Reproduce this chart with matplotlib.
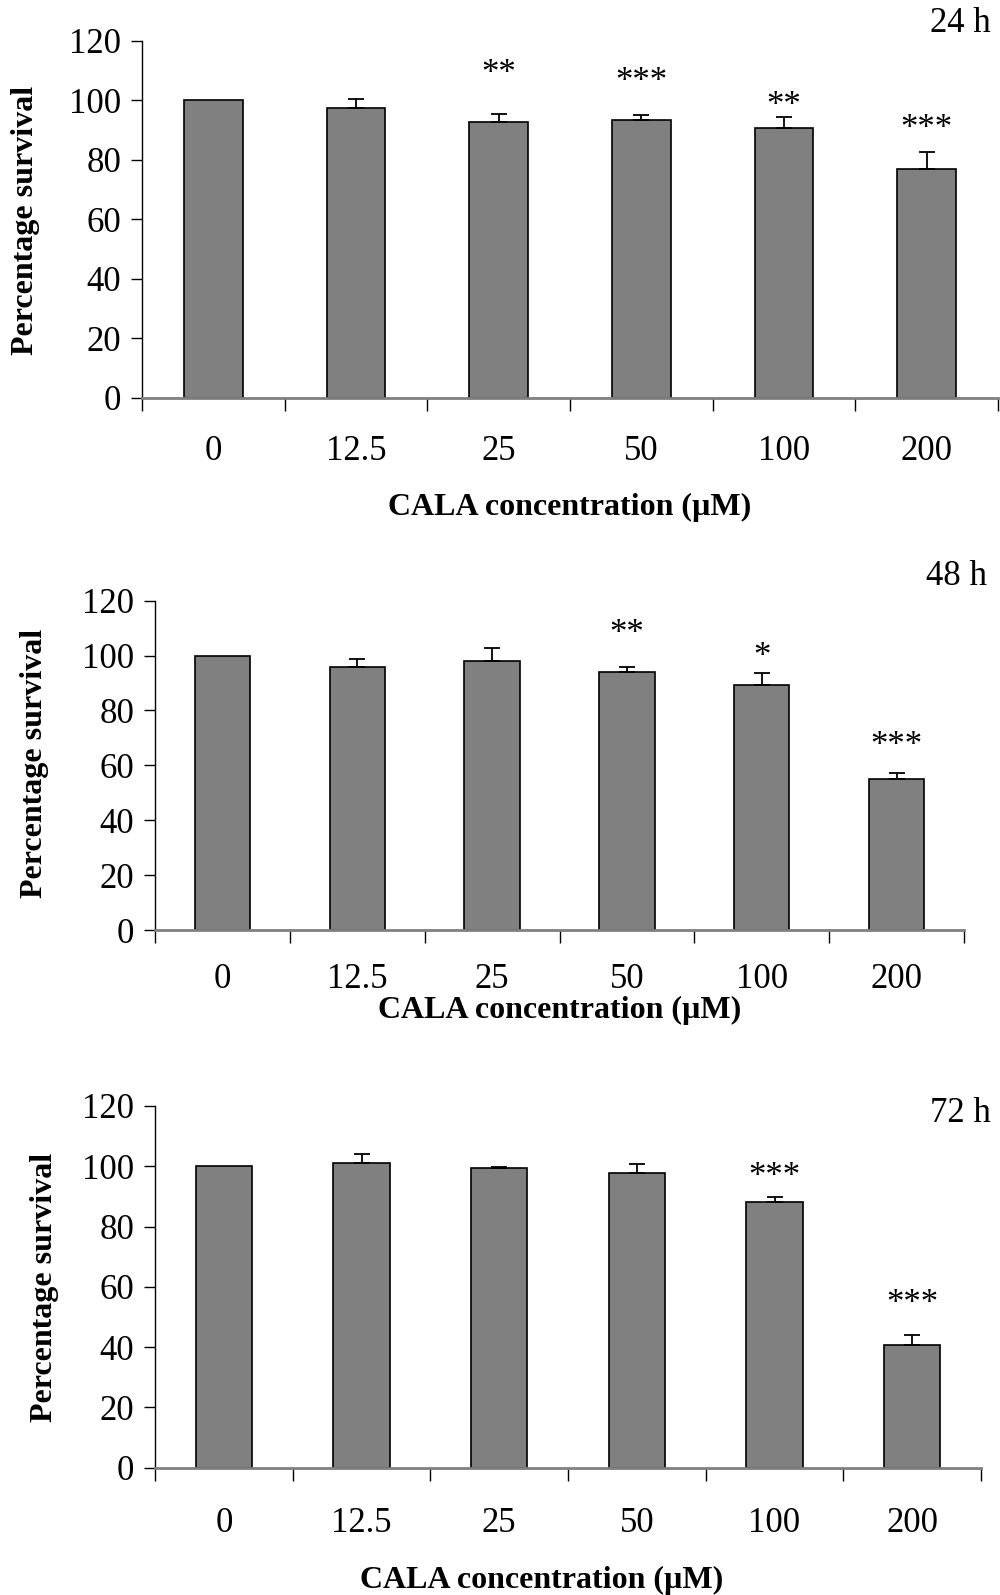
import numpy as np
import matplotlib.pyplot as plt

plt.rcParams['font.family'] = ['Liberation Serif', 'DejaVu Serif']

# data
conc = ["0", "12.5", "25", "50", "100", "200"]

surv_24 = [100, 97.5, 92.7, 93.3, 90.5, 77.0]
err_24 = [0, 2.8, 2.8, 1.6, 3.8, 5.5]
sig_24 = ["", "", "**", "***", "**", "***"]

surv_48 = [100, 96.0, 97.9, 94.1, 89.3, 54.9]
err_48 = [0, 2.6, 5.0, 1.7, 4.3, 2.2]
sig_48 = ["", "", "", "**", "*", "***"]

surv_72 = [100, 101.0, 99.3, 97.9, 88.3, 40.8]
err_72 = [0, 3.2, 0.5, 2.8, 1.5, 3.3]
sig_72 = ["", "", "", "", "***", "***"]

times = ["24 h", "48 h", "72 h"]

# heights (data units) where the asterisks sit
star_24 = [0, 0, 108.7, 106.1, 98.0, 90.0]
star_48 = [0, 0, 0, 107.7, 99.2, 67.0]
star_72 = [0, 0, 0, 0, 96.2, 54.0]

W, H = 1000, 1595
fig = plt.figure(figsize=(W / 100, H / 100), dpi=100)


def frac(l, t, r, b):
    return [l / W, 1 - b / H, (r - l) / W, (b - t) / H]


# layout per panel: axes box (px), tick label pad, y label pos, x label pos, time label pos
layout = [
    dict(box=(142, 40.7, 998, 397.7), pad=27, ylab=(26, 220), xlab=(570, 507), tlab=(960, 23)),
    dict(box=(155, 600.7, 964, 930), pad=24, ylab=(35, 763), xlab=(560, 1010), tlab=(956, 577)),
    dict(box=(155, 1106, 981, 1467.7), pad=28, ylab=(45, 1287), xlab=(542, 1580), tlab=(960, 1113)),
]

series = [(surv_24, err_24, sig_24, star_24),
          (surv_48, err_48, sig_48, star_48),
          (surv_72, err_72, sig_72, star_72)]

x = np.arange(len(conc))
fs = 25

for i, (vals, errs, sigs, stars) in enumerate(series):
    lo = layout[i]
    ax = fig.add_axes(frac(*lo["box"]))
    ax.bar(x, vals, width=0.41, color="#808080", edgecolor="black", linewidth=1.2, zorder=2)
    errs = np.array(errs)
    m = errs > 0
    ax.errorbar(x[m], np.array(vals)[m], yerr=[np.zeros(m.sum()), errs[m]], fmt="none",
                ecolor="black", elinewidth=1.3, capsize=6, capthick=1.3, zorder=3)
    for j, s in enumerate(sigs):
        if s:
            ax.text(x[j], stars[j], s, ha="center", va="center", fontsize=fs, zorder=4)

    ax.set_xlim(-0.5, len(conc) - 0.5)
    ax.set_ylim(0, 120)
    ax.set_yticks(range(0, 121, 20))
    ax.tick_params(axis="y", labelsize=fs, length=8, width=1, pad=7, direction="out")

    ax.set_xticks(np.arange(-0.5, len(conc), 1.0))
    ax.set_xticklabels([])
    ax.set_xticks(x, minor=True)
    ax.set_xticklabels(conc, minor=True)
    ax.tick_params(axis="x", which="major", length=9, width=1, direction="out")
    ax.tick_params(axis="x", which="minor", length=0, labelsize=fs, pad=lo["pad"])

    for sp in ["top", "right"]:
        ax.spines[sp].set_visible(False)
    ax.spines["bottom"].set_color("#808080")
    ax.spines["bottom"].set_linewidth(2)
    ax.spines["left"].set_linewidth(1)

    fig.text(lo["ylab"][0] / W, 1 - lo["ylab"][1] / H, "Percentage survival", rotation=90,
             ha="center", va="center", fontsize=23, fontweight="bold")
    fig.text(lo["xlab"][0] / W, 1 - lo["xlab"][1] / H, "CALA concentration (µM)",
             ha="center", va="center", fontsize=23, fontweight="bold")
    fig.text(lo["tlab"][0] / W, 1 - lo["tlab"][1] / H, times[i],
             ha="center", va="center", fontsize=fs)

fig.savefig("out.png", dpi=100)
